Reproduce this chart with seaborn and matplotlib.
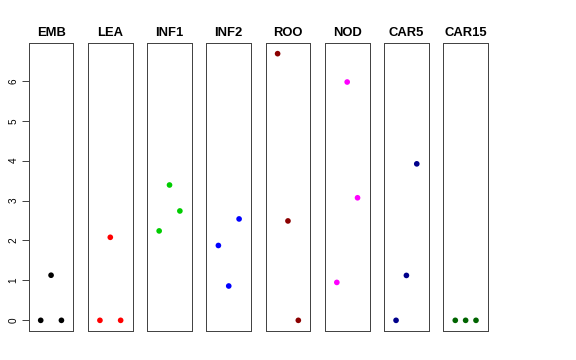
import matplotlib
matplotlib.use("Agg")
import matplotlib.pyplot as plt
import seaborn as sns
import pandas as pd

tissues = ["EMB", "LEA", "INF1", "INF2", "ROO", "NOD", "CAR5", "CAR15"]
colors = ["#000000", "#FF0000", "#00CD00", "#0000FF", "#8B0000", "#FF00FF", "#00008B", "#006400"]
replicate = [1, 2, 3]
EMB = [0.0, 1.13, 0.0]
LEA = [0.0, 2.08, 0.0]
INF1 = [2.24, 3.39, 2.74]
INF2 = [1.875, 0.86, 2.54]
ROO = [6.68, 2.49, 0.0]
NOD = [0.95, 5.97, 3.07]
CAR5 = [0.0, 1.125, 3.92]
CAR15 = [0.0, 0.0, 0.0]
values = [EMB, LEA, INF1, INF2, ROO, NOD, CAR5, CAR15]
yticks = [0, 1, 2, 3, 4, 5, 6]

sns.set_theme(style="white")
plt.rcParams["font.family"] = ["Liberation Sans", "DejaVu Sans"]
plt.rcParams["text.color"] = "black"
plt.rcParams["ytick.color"] = "#444444"
plt.rcParams["ytick.labelcolor"] = "black"

fig, axes = plt.subplots(1, 8, figsize=(8, 5), dpi=72, sharey=True)
fig.subplots_adjust(left=28.7/576, right=488/576, top=1-43/360, bottom=1-331/360, wspace=0.324)

ymax = max(max(v) for v in values)
pad = ymax * 0.04
for i, (ax, name, col, vals) in enumerate(zip(axes, tissues, colors, values)):
    df = pd.DataFrame({"x": replicate, "y": vals})
    sns.scatterplot(data=df, x="x", y="y", ax=ax, color=col, s=32, edgecolor="none", linewidth=0)
    ax.set_xlim(-0.16, 4.16)
    ax.set_ylim(-pad, ymax + pad)
    ax.set_title(name, fontsize=13, fontweight="bold", pad=7, color="black")
    ax.set_xlabel("")
    ax.set_ylabel("")
    ax.set_xticks([])
    for s in ax.spines.values():
        s.set_color("#444444")
        s.set_linewidth(1.0)
    if i == 0:
        ax.set_yticks(yticks)
        ax.set_yticklabels([str(t) for t in yticks], rotation=90, va="center", fontsize=10, color="black")
        ax.tick_params(axis="y", left=True, length=7, width=1, color="#444444", pad=3)
    else:
        ax.tick_params(axis="y", left=False, labelleft=False)

fig.savefig("out.png", dpi=72, facecolor="white")
